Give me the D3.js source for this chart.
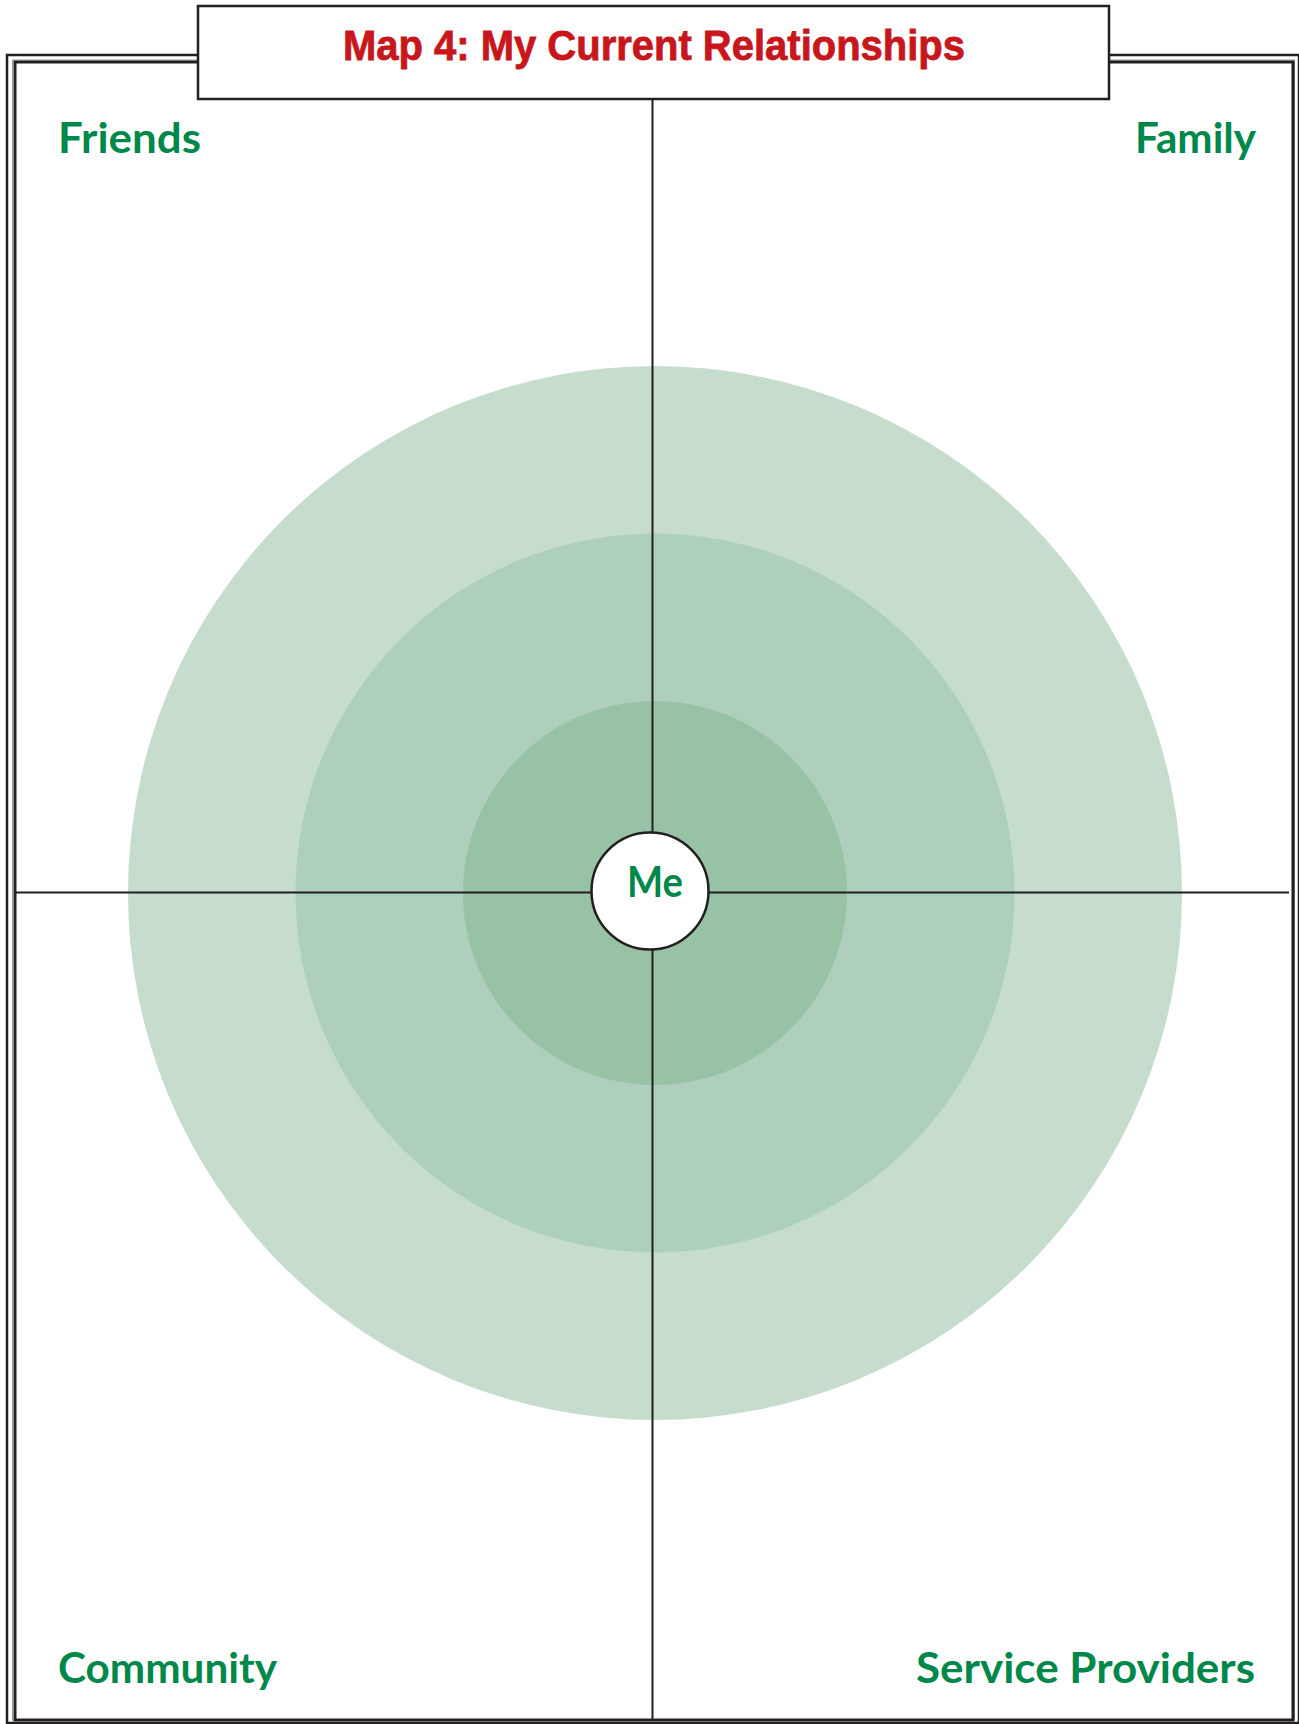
<!DOCTYPE html>
<html lang="en">
  <head>
    <title>Map 4: My Current Relationships</title>
    <meta charset="utf-8">
    <script src="https://d3js.org/d3.v7.min.js"></script>
    <style>
      body { margin: 0; background: #fff; }
      svg { display: block; }
    </style>
  </head>
  <body>
    <div id="chart"></div>
    <script>

    // chart content
    const title = "Map 4: My Current Relationships";
    const centerLabel = "Me";
    const quadrants = ["Friends", "Family", "Community", "Service Providers"];
    const ringLevels = [3, 2, 1];   // outer, middle, inner circle of closeness

    const width = 1299, height = 1724;
    const cx = 655, cy = 893;       // centre of the rings
    const axisX = 652.5, axisY = 892.5;

    const green = "#00884a", red = "#c8161d", ink = "#231f20";
    const ringColor = d3.scaleOrdinal().domain(ringLevels).range(["#c6ddce", "#aecfbc", "#98c2a6"]);
    const r = d3.scaleLinear().domain([0, 3]).range([24.5, 527]);

    const svg = d3.select("#chart")
      .append("svg")
        .attr("width", width)
        .attr("height", height);

    // double frame
    svg.append("rect")
      .attr("x", 7).attr("y", 55).attr("width", 1292).attr("height", 1668)
      .attr("fill", "none").attr("stroke", ink).attr("stroke-width", 2.5);
    svg.append("rect")
      .attr("x", 12.5).attr("y", 60).attr("width", 1282).attr("height", 1660)
      .attr("fill", "none").attr("stroke", "#9a9a9a").attr("stroke-width", 1);
    svg.append("rect")
      .attr("x", 15).attr("y", 62).attr("width", 1278).attr("height", 1658)
      .attr("fill", "none").attr("stroke", ink).attr("stroke-width", 3);

    // rings
    svg.append("g")
      .selectAll("circle")
      .data(ringLevels)
      .join("circle")
        .attr("cx", cx)
        .attr("cy", cy)
        .attr("r", d => r(d))
        .attr("fill", d => ringColor(d));

    // cross lines
    svg.append("line")
      .attr("x1", axisX).attr("x2", axisX).attr("y1", 99).attr("y2", 1720)
      .attr("stroke", ink).attr("stroke-width", 2);
    svg.append("line")
      .attr("x1", 16).attr("x2", 1289).attr("y1", axisY).attr("y2", axisY)
      .attr("stroke", ink).attr("stroke-width", 2);

    // title box
    svg.append("rect")
      .attr("x", 198).attr("y", 6).attr("width", 911).attr("height", 93)
      .attr("fill", "#fff").attr("stroke", ink).attr("stroke-width", 2.5);
    svg.append("text")
      .attr("x", 654).attr("y", 60)
      .attr("text-anchor", "middle")
      .attr("textLength", 622)
      .attr("lengthAdjust", "spacingAndGlyphs")
      .style("font-family", "'Liberation Sans', Arial, sans-serif")
      .style("font-weight", "bold")
      .style("font-size", "42px")
      .style("stroke", red)
      .style("stroke-width", 0.8)
      .style("fill", red)
      .text(title);

    // quadrant labels
    const spots = {
      "Friends":           {x: 58,   y: 153,  anchor: "start", len: 143},
      "Family":            {x: 1256, y: 153,  anchor: "end",   len: 121},
      "Community":         {x: 58,   y: 1683, anchor: "start", len: 219},
      "Service Providers": {x: 1255, y: 1683, anchor: "end",   len: 339}
    };
    svg.append("g")
      .selectAll("text")
      .data(quadrants)
      .join("text")
        .attr("x", d => spots[d].x)
        .attr("y", d => spots[d].y)
        .attr("text-anchor", d => spots[d].anchor)
        .attr("textLength", d => spots[d].len)
        .attr("lengthAdjust", "spacingAndGlyphs")
        .style("font-family", "Lato, 'Open Sans', sans-serif")
        .style("font-weight", "bold")
        .style("font-size", "42px")
        .style("fill", green)
        .text(d => d);

    // "Me" in the middle
    svg.append("circle")
      .attr("cx", 650).attr("cy", 891).attr("r", 58.5)
      .attr("fill", "#fff").attr("stroke", ink).attr("stroke-width", 2.5);
    svg.append("text")
      .attr("x", 655).attr("y", 897)
      .attr("text-anchor", "middle")
      .attr("textLength", 56)
      .attr("lengthAdjust", "spacingAndGlyphs")
      .style("font-family", "Lato, 'Open Sans', sans-serif")
      .style("font-weight", "bold")
      .style("font-size", "42px")
      .style("fill", green)
      .text(centerLabel);

    </script>
  </body>
</html>
